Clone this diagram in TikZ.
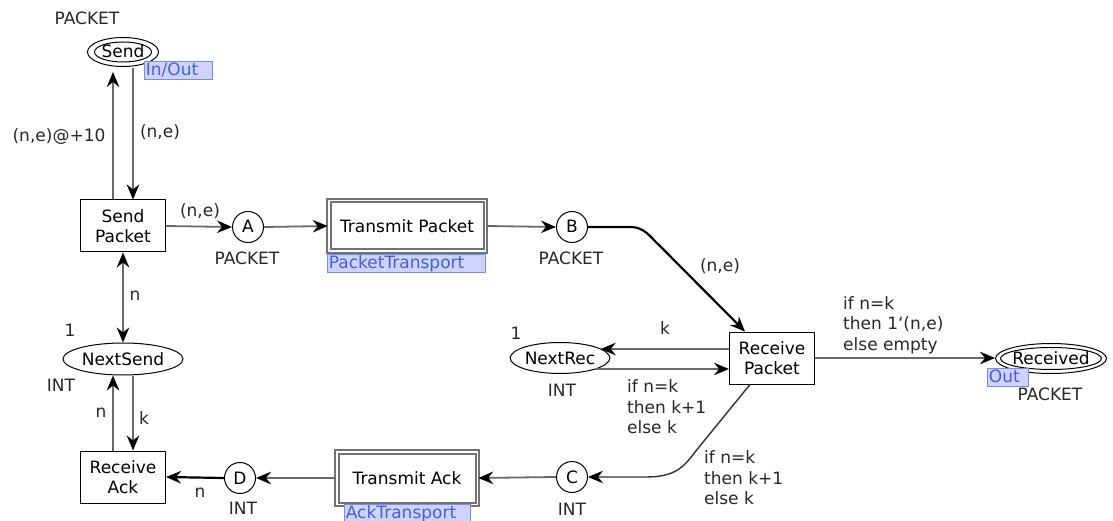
\documentclass[tikz,border=0pt]{standalone}
\usepackage{fontspec}
\setmainfont{DejaVu Sans}
\usetikzlibrary{arrows.meta,shapes.geometric}
\definecolor{tagfill}{RGB}{204,212,255}
\definecolor{tagdraw}{RGB}{120,140,240}
\definecolor{tagtext}{RGB}{70,95,225}
\definecolor{arcgray}{RGB}{105,105,105}
\definecolor{labelgray}{RGB}{40,40,40}
\definecolor{subframe}{RGB}{115,115,115}
\begin{document}
\begin{tikzpicture}[x=1pt,y=-1pt,
  every node/.style={font=\fontsize{17}{20.5}\selectfont},
  >={Stealth[length=15pt,width=12.5pt,inset=5pt,color=black]},
  arc/.style={draw=arcgray, line width=1.8pt, ->},
  arcb/.style={draw=black, line width=2.2pt, ->},
  place/.style={ellipse, draw, line width=1pt, inner sep=0pt, text height=12pt, text depth=0pt, text=black},
  innerplace/.style={place, inner sep=-3pt},
  outerplace/.style={ellipse, draw, line width=1pt, inner sep=0pt},
  port/.style={circle, draw, line width=1pt, minimum size=31pt, inner sep=0pt, text height=12pt, text depth=0pt, text=black},
  trans/.style={rectangle, draw, line width=1pt, minimum width=85pt, minimum height=52pt, align=center, inner sep=2pt, text=black},
  subst/.style={rectangle, draw=subframe, line width=2pt, double=white, double distance=1.5pt, text=black},
  tag/.style={anchor=north west, fill=tagfill, draw=tagdraw, line width=0.8pt, text=tagtext, inner sep=1.5pt, text height=12.5pt, text depth=2.5pt, align=left},
  lbl/.style={text=labelgray, inner sep=0pt}
]
\fill[white] (0,0) rectangle (1113,521);
\useasboundingbox (0,0) rectangle (1113,521);

% port places: an inner ellipse with the name and an outer ring
\node[innerplace, minimum width=57pt, minimum height=20pt] (send) at (123,52) {Send};
\node[outerplace, minimum width=71pt, minimum height=29pt] (sendO) at (send.center) {};
\node[innerplace, minimum width=100pt, minimum height=22pt] (rcvd) at (1051,358.5) {Received};
\node[outerplace, minimum width=111pt, minimum height=30pt] (rcvdO) at (rcvd.center) {};

% places
\node[place, minimum width=120pt, minimum height=32pt] (nsend) at (123,359) {NextSend};
\node[place, minimum width=95pt, minimum height=31pt] (nrec) at (560,358) {NextRec};
\node[port] (A) at (248,227) {A};
\node[port] (B) at (572,227) {B};
\node[port] (C) at (572,477) {C};
\node[port] (D) at (240,478) {D};

% transitions
\node[trans] (sp) at (123,226) {Send\\Packet};
\node[trans] (ra) at (123,477) {Receive\\Ack};
\node[trans] (rp) at (772,358) {Receive\\Packet};
\node[subst, minimum width=156.5pt, minimum height=50.5pt] (tp) at (407,226) {Transmit Packet};
\node[subst, minimum width=140.5pt, minimum height=52.5pt] (ta) at (407,478) {Transmit Ack};

% port and module tags
\node[tag, text width=65pt] (tagSend) at (144,61) {In/Out};
\node[tag, text width=155pt] (tagTP) at (327,254) {PacketTransport};
\node[tag, text width=123pt] (tagTA) at (344,504) {AckTransport};
\node[tag, text width=38pt] (tagRcvd) at (987,368) {Out};

% colour sets and initial markings
\node[lbl] (csSend) at (87,18) {PACKET};
\node[lbl] (csA) at (247,258) {PACKET};
\node[lbl] (csB) at (571,258) {PACKET};
\node[lbl] (csRcvd) at (1050,394) {PACKET};
\node[lbl] (csNS) at (61,385) {INT};
\node[lbl] (imNS) at (70,330) {1};
\node[lbl] (csNR) at (562,390) {INT};
\node[lbl] (imNR) at (516,333) {1};
\node[lbl] (csC) at (572,509) {INT};
\node[lbl] (csD) at (243,508) {INT};

% end points of the paired vertical and horizontal arcs
\coordinate (spL) at ([xshift=-10pt]sp.north);
\coordinate (spR) at ([xshift=10pt]sp.north);
\coordinate (raL) at ([xshift=-10pt]ra.north);
\coordinate (raR) at ([xshift=10pt]ra.north);
\coordinate (rk) at ([yshift=9pt]rp.west);
\coordinate (kr) at ([yshift=-11pt]rp.west);

% arcs
\draw[arc] (spL) -- ([xshift=-10pt,yshift=-5pt]sendO.south);
\draw[arc] ([xshift=10pt,yshift=-1pt]sendO.south) -- (spR);
\draw[arc] (sp.east) -- (A.west);
\draw[arc] (A.east) -- (tp.west);
\draw[arc] (tp.east) -- (B.west);
\draw[arcb] (B.east) -- (630,227) .. controls (645,227) and (650,237) .. (660,246) -- ([xshift=-27pt]rp.north);
\draw[arc, <->] (sp.south) -- (nsend.north);
\draw[arc] (raL) -- (nsend.south -| raL);
\draw[arc] (nsend.south -| raR) -- (raR);
\draw[arc] (rk) -- (nrec.13 |- rk);
\draw[arc] (nrec.-18 |- kr) -- (kr);
\draw[arc] (rp.east) -- (rp.east -| rcvdO.west);
\draw[arc, draw=black!80, line width=1.4pt] ([xshift=-22pt]rp.south) -- (695,452) .. controls (682,470) and (672,477) .. (645,477) -- (C.east);
\draw[arc] (C.west) -- (ta.east);
\draw[arc] (ta.west) -- (D.east);
\draw[arcb] (D.west) -- (ra.east);

% arc inscriptions
\node[lbl] (iSP1) at (59,137) {(n,e)@+10};
\node[lbl] (iSP2) at (160,132) {(n,e)};
\node[lbl] (iSPA) at (200,211) {(n,e)};
\node[lbl] (iBRP) at (720,266) {(n,e)};
\node[lbl] (iNS) at (135,296) {n};
\node[lbl] (iRA1) at (101,413) {n};
\node[lbl] (iRA2) at (144,418) {k};
\node[lbl] (iDRA) at (200,493) {n};
\node[lbl] (iRPk) at (665,328) {k};
\node[lbl, anchor=west, align=left] (iNR) at (627,407) {if n=k\\then k+1\\else k};
\node[lbl, anchor=west, align=left] (iRPC) at (704,478) {if n=k\\then k+1\\else k};
\node[lbl, anchor=west, align=left] (iRcvd) at (843,325) {if n=k\\then 1\symbol{96}(n,e)\\else empty};
\end{tikzpicture}
\end{document}
